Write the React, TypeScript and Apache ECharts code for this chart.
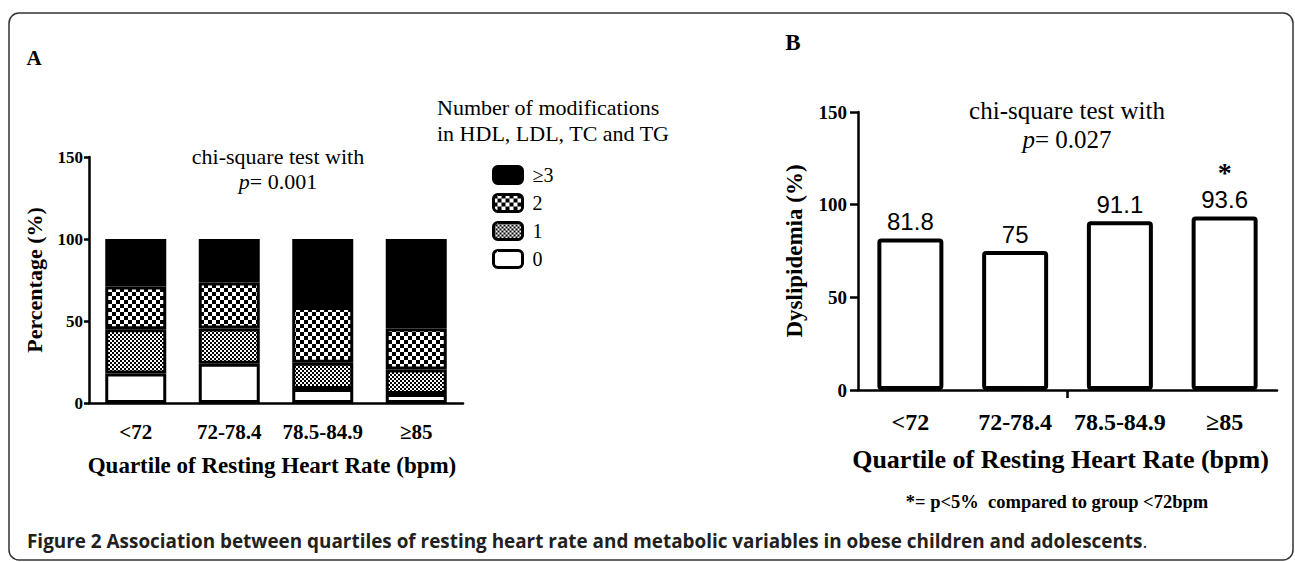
import React, { useEffect, useRef } from 'react';
import * as echarts from 'echarts';

const categories = ['<72', '72-78.4', '78.5-84.9', '≥85'];
const modNames = ['0', '1', '2', '≥3'];
const legendOrder = ['≥3', '2', '1', '0'];
const mod0 = [18, 24, 8.5, 5.5];
const mod1 = [27, 21.5, 16, 15];
const mod2 = [26, 28, 34, 25];
const mod3 = [29, 26.5, 41.5, 54.5];
const dyslipidemia = [81.8, 75, 91.1, 93.6];
const significance = ['', '', '', '*'];

const SERIF = 'Liberation Serif, Times New Roman, serif';
const SANS = 'Liberation Sans, Arial, sans-serif';

function checker(cell: number) {
  const c = document.createElement('canvas');
  c.width = cell * 2;
  c.height = cell * 2;
  const ctx = c.getContext('2d')!;
  ctx.fillStyle = '#fff';
  ctx.fillRect(0, 0, cell * 2, cell * 2);
  ctx.fillStyle = '#000';
  ctx.fillRect(0, 0, cell, cell);
  ctx.fillRect(cell, cell, cell, cell);
  return { image: c, repeat: 'repeat' };
}

export default function App() {
  const ref = useRef<HTMLDivElement>(null);
  useEffect(() => {
    if (!ref.current) return;
    const chart = echarts.init(ref.current, null, { renderer: 'svg' });
    const fills: any[] = ['#fff', checker(2), checker(4), '#000'];
    const stackData = [mod0, mod1, mod2, mod3];
    const axisLineStyle = { color: '#000', width: 2.5 };
    const boldSerif = (size: number) => ({ fontFamily: SERIF, fontWeight: 'bold', fontSize: size, color: '#000' });

    const option: any = {
      animation: false,
      backgroundColor: '#fff',
      grid: [
        { left: 89, top: 157, width: 374, height: 246 },
        { left: 858, top: 112, width: 419, height: 278 },
      ],
      xAxis: [
        {
          type: 'category', gridIndex: 0, data: categories,
          axisLine: { lineStyle: axisLineStyle },
          axisTick: { alignWithLabel: true, interval: 0, length: 8, lineStyle: axisLineStyle },
          axisLabel: { ...boldSerif(21), margin: 18, interval: 0, hideOverlap: false },
          name: 'Quartile of Resting Heart Rate (bpm)', nameLocation: 'middle', nameGap: 51,
          nameTextStyle: { ...boldSerif(23), padding: [0, 8, 0, 0] },
        },
        {
          type: 'category', gridIndex: 1, data: categories,
          axisLine: { lineStyle: axisLineStyle },
          axisTick: { show: false },
          axisLabel: { ...boldSerif(24), margin: 20, interval: 0, hideOverlap: false },
          name: 'Quartile of Resting Heart Rate (bpm)', nameLocation: 'middle', nameGap: 56,
          nameTextStyle: { ...boldSerif(26), padding: [0, 14, 0, 0] },
        },
        {
          type: 'value', gridIndex: 1, position: 'bottom', min: 0, max: categories.length,
          axisLine: { show: false }, axisLabel: { show: false }, splitLine: { show: false },
          axisTick: { show: true, customValues: [categories.length / 2], length: 8, lineStyle: axisLineStyle },
        },
      ],
      yAxis: [
        {
          type: 'value', gridIndex: 0, min: 0, max: 150, interval: 50,
          axisLine: { show: true, lineStyle: axisLineStyle },
          axisTick: { show: true, length: 5, lineStyle: axisLineStyle },
          splitLine: { show: false },
          axisLabel: { ...boldSerif(17), margin: 6 },
          name: 'Percentage (%)', nameLocation: 'middle', nameGap: 44,
          nameTextStyle: boldSerif(22),
        },
        {
          type: 'value', gridIndex: 1, min: 0, max: 150, interval: 50,
          axisLine: { show: true, lineStyle: axisLineStyle },
          axisTick: { show: true, length: 8, lineStyle: axisLineStyle },
          splitLine: { show: false },
          axisLabel: { ...boldSerif(19), margin: 11 },
          name: 'Dyslipidemia (%)', nameLocation: 'middle', nameGap: 52,
          nameTextStyle: boldSerif(23),
        },
      ],
      legend: {
        data: legendOrder, orient: 'vertical', left: 487, top: 160,
        itemWidth: 29, itemHeight: 17, itemGap: 8, icon: 'roundRect', selectedMode: false,
        formatter: (n: string) => ' ' + n,
        textStyle: { fontFamily: SERIF, fontSize: 20, color: '#000', lineHeight: 20 },
        itemStyle: { borderColor: '#000', borderWidth: 3 },
      },
      series: [
        ...modNames.map((n, i) => ({
          name: n, type: 'bar', stack: 'A', xAxisIndex: 0, yAxisIndex: 0,
          data: stackData[i], barWidth: 61,
          itemStyle: { color: fills[i], borderColor: '#000', borderWidth: 3 },
        })),
        {
          name: 'Dyslipidemia', type: 'bar', xAxisIndex: 1, yAxisIndex: 1,
          data: dyslipidemia, barWidth: 66,
          itemStyle: { color: '#fff', borderColor: '#000', borderWidth: 4, borderRadius: 2 },
          label: {
            show: true, position: 'top', distance: 4,
            formatter: (p: any) => significance[p.dataIndex]
              ? `{s|${significance[p.dataIndex]}}\n{v|${p.value}}`
              : `{v|${p.value}}`,
            rich: {
              v: { fontFamily: SANS, fontSize: 24, color: '#000', lineHeight: 26 },
              s: { fontFamily: SERIF, fontWeight: 'bold', fontSize: 28, color: '#000', lineHeight: 30, verticalAlign: 'bottom' },
            },
          },
        },
      ],
      graphic: [
        { type: 'rect', shape: { x: 9, y: 13, width: 1284, height: 547, r: 10 }, style: { fill: 'none', stroke: '#333', lineWidth: 1.5 }, silent: true },
        { type: 'text', style: { text: 'A', x: 34, y: 58, textAlign: 'center', textVerticalAlign: 'middle', fontFamily: SERIF, fontWeight: 'bold', fontSize: 21, fill: '#000' } },
        { type: 'text', style: { text: 'B', x: 793, y: 42, textAlign: 'center', textVerticalAlign: 'middle', fontFamily: SERIF, fontWeight: 'bold', fontSize: 23, fill: '#000' } },
        {
          type: 'text',
          style: {
            text: 'chi-square test with\n{i|p}= 0.001', x: 278, y: 169, textAlign: 'center', textVerticalAlign: 'middle',
            fontFamily: SERIF, fontSize: 22, fill: '#000', lineHeight: 25,
            rich: { i: { fontFamily: SERIF, fontStyle: 'italic', fontSize: 22, fill: '#000', lineHeight: 25 } },
          },
        },
        {
          type: 'text',
          style: {
            text: 'chi-square test with\n{i|p}= 0.027', x: 1067, y: 125, textAlign: 'center', textVerticalAlign: 'middle',
            fontFamily: SERIF, fontSize: 25, fill: '#000', lineHeight: 29,
            rich: { i: { fontFamily: SERIF, fontStyle: 'italic', fontSize: 25, fill: '#000', lineHeight: 29 } },
          },
        },
        {
          type: 'text',
          style: {
            text: 'Number of modifications\nin HDL, LDL, TC and TG', x: 437, y: 120, textAlign: 'left', textVerticalAlign: 'middle',
            fontFamily: SERIF, fontSize: 22, fill: '#000', lineHeight: 26,
          },
        },
        {
          type: 'text',
          style: {
            text: '*= p<5%  compared to group <72bpm', x: 1057, y: 502, textAlign: 'center', textVerticalAlign: 'middle',
            fontFamily: SERIF, fontWeight: 'bold', fontSize: 18.5, fill: '#000',
          },
        },
        {
          type: 'text',
          style: {
            text: '{b|Figure 2 Association between quartiles of resting heart rate and metabolic variables in obese children and adolescents}{n|.}',
            x: 27, y: 541, textAlign: 'left', textVerticalAlign: 'middle',
            rich: {
              b: { fontFamily: 'Open Sans', fontWeight: 'bold', fontSize: 18.9, fill: '#231f20' },
              n: { fontFamily: 'Open Sans', fontWeight: 'normal', fontSize: 18.9, fill: '#231f20' },
            },
          },
        },
      ],
    };
    chart.setOption(option);
    return () => chart.dispose();
  }, []);
  return (
    <div
      ref={ref}
      style={{ position: 'fixed', left: 0, top: 0, width: 1295, height: 562, background: '#fff' }}
    />
  );
}
